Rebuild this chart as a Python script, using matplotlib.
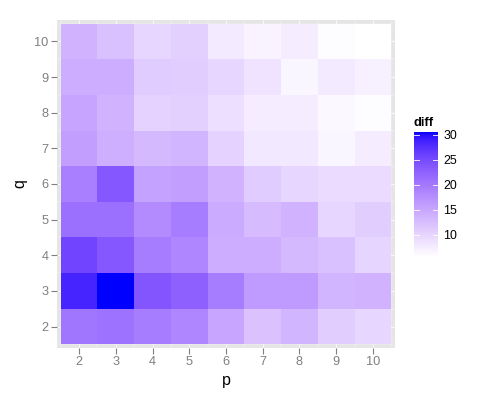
import numpy as np
import matplotlib
matplotlib.use("Agg")
import matplotlib.pyplot as plt
from matplotlib.colors import ListedColormap, Normalize

plt.rcParams['font.family'] = ['Liberation Sans', 'DejaVu Sans']

p_vals = [2, 3, 4, 5, 6, 7, 8, 9, 10]
q_vals = [2, 3, 4, 5, 6, 7, 8, 9, 10]

# diff values, one list per q (q = 2 .. 10), columns p = 2 .. 10
diff_q2 = [20.3, 20.8, 19.5, 18.5, 15.0, 12.0, 13.5, 10.8, 9.8]
diff_q3 = [28.5, 30.5, 23.8, 22.5, 19.5, 16.3, 16.3, 13.5, 13.8]
diff_q4 = [25.5, 23.5, 19.5, 18.5, 14.3, 14.3, 13.0, 12.3, 10.0]
diff_q5 = [21.0, 21.0, 18.0, 19.5, 14.5, 12.8, 13.8, 9.8, 10.8]
diff_q6 = [19.3, 23.5, 15.5, 15.8, 13.8, 11.0, 9.8, 9.3, 9.3]
diff_q7 = [15.8, 14.0, 13.0, 13.5, 10.3, 8.0, 8.0, 6.5, 7.5]
diff_q8 = [15.3, 13.8, 10.3, 10.5, 9.0, 7.5, 7.5, 6.3, 5.8]
diff_q9 = [14.3, 14.3, 11.0, 10.8, 9.8, 8.5, 6.5, 7.8, 7.0]
diff_q10 = [13.8, 12.3, 9.8, 10.5, 7.8, 6.8, 7.5, 5.8, 5.5]

cbar_ticks = [10, 15, 20, 25, 30]

Z = np.array([diff_q2, diff_q3, diff_q4, diff_q5, diff_q6,
              diff_q7, diff_q8, diff_q9, diff_q10])


# --- Lab interpolation white -> blue (like ggplot2's gradient) ---
def srgb_to_lin(c):
    c = np.asarray(c, float)
    return np.where(c <= 0.04045, c / 12.92, ((c + 0.055) / 1.055) ** 2.4)


def lin_to_srgb(c):
    c = np.clip(c, 0, 1)
    return np.where(c <= 0.0031308, 12.92 * c, 1.055 * c ** (1 / 2.4) - 0.055)


M = np.array([[0.4124, 0.3576, 0.1805],
              [0.2126, 0.7152, 0.0722],
              [0.0193, 0.1192, 0.9505]])
Minv = np.linalg.inv(M)
WP = np.array([0.95047, 1.0, 1.08883])


def f(t):
    d = 6 / 29
    return np.where(t > d ** 3, np.cbrt(t), t / (3 * d * d) + 4 / 29)


def finv(t):
    d = 6 / 29
    return np.where(t > d, t ** 3, 3 * d * d * (t - 4 / 29))


def rgb2lab(rgb):
    xyz = M @ srgb_to_lin(rgb) / WP
    fx, fy, fz = f(xyz)
    return np.array([116 * fy - 16, 500 * (fx - fy), 200 * (fy - fz)])


def lab2rgb(lab):
    L, a, b = lab
    fy = (L + 16) / 116
    fx = fy + a / 500
    fz = fy - b / 200
    xyz = np.array([finv(fx), finv(fy), finv(fz)]) * WP
    return lin_to_srgb(Minv @ xyz)


lo = rgb2lab([1, 1, 1])
hi = rgb2lab([0, 0, 1])
cols = [np.clip(lab2rgb(lo + (hi - lo) * t), 0, 1) for t in np.linspace(0, 1, 256)]
cmap = ListedColormap(cols)

vmin, vmax = Z.min(), Z.max()
norm = Normalize(vmin=vmin, vmax=vmax)

fig = plt.figure(figsize=(5, 4), dpi=100)
ax = fig.add_axes([0.114, 0.13, 0.676, 0.82])
ax.set_facecolor('#E5E5E5')

xe = np.arange(len(p_vals) + 1) + p_vals[0] - 0.5
ye = np.arange(len(q_vals) + 1) + q_vals[0] - 0.5
for v in np.arange(1.5, 11, 0.5):
    lw = 0.5 if v % 1 == 0 else 0.25
    ax.axvline(v, color='white', lw=lw, zorder=0.5)
    ax.axhline(v, color='white', lw=lw, zorder=0.5)
ax.pcolormesh(xe, ye, Z, cmap=cmap, norm=norm, zorder=1, antialiased=False, edgecolors='none')

ax.set_xlim(1.4, 10.6)
ax.set_ylim(1.4, 10.6)
ax.set_xticks(p_vals)
ax.set_yticks(q_vals)
for s in ax.spines.values():
    s.set_visible(False)
ax.tick_params(colors='#7F7F7F', labelcolor='#7F7F7F', labelsize=9.2, length=4, width=0.8, pad=2)
ax.set_xlabel('p', fontsize=11.5, labelpad=3)
ax.set_ylabel('q', fontsize=11.5, labelpad=5)

cax = fig.add_axes([0.828, 0.3575, 0.048, 0.3125])
grad = np.linspace(vmin, vmax, 256).reshape(-1, 1)
cax.imshow(grad, aspect='auto', cmap=cmap, norm=norm, origin='lower',
           extent=[0, 1, vmin, vmax])
cax.set_xlim(0, 1)
cax.set_ylim(vmin, vmax)
cax.set_xticks([])
cax.set_yticks(cbar_ticks)
cax.yaxis.tick_right()
cax.tick_params(axis='y', length=0, labelsize=8.9, pad=4, labelcolor='black')
for t in cbar_ticks:
    cax.plot([0, 0.2], [t, t], color='white', lw=0.6)
    cax.plot([0.8, 1], [t, t], color='white', lw=0.6)
for s in cax.spines.values():
    s.set_visible(False)
fig.text(0.828, 0.684, 'diff', fontsize=9.4, fontweight='bold', ha='left', va='baseline')

fig.savefig('out.png', dpi=100)
